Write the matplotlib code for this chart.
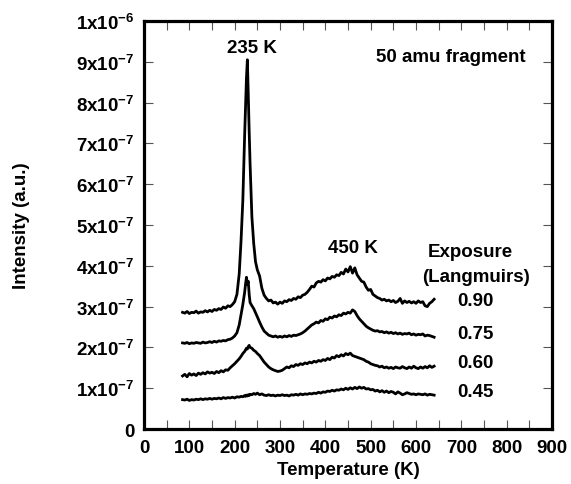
import matplotlib
matplotlib.use("Agg")
import matplotlib.pyplot as plt
from matplotlib.ticker import MultipleLocator, FixedLocator, FixedFormatter

plt.rcParams['font.family'] = ['Liberation Sans', 'DejaVu Sans']
plt.rcParams['font.weight'] = 'bold'
plt.rcParams['mathtext.fontset'] = 'custom'
plt.rcParams['mathtext.rm'] = 'Liberation Sans:bold'
plt.rcParams['mathtext.bf'] = 'Liberation Sans:bold'
plt.rcParams['mathtext.default'] = 'rm'

# Temperature grid (K)
temps = ([85, 90, 95, 100, 105, 110, 115, 120, 125, 130,
          135, 140, 145, 150, 155, 160, 165, 170, 175, 180,
          185, 190, 195, 200, 205, 210]
         + [214, 218, 222, 224, 226, 228, 230, 232, 234, 238, 242, 246, 250]
         + [255, 260, 265, 270, 275, 280, 285, 290, 295, 300,
            305, 310, 315, 320, 325, 330, 335, 340, 345, 350,
            355, 360, 365, 370, 375, 380, 385, 390, 395, 400,
            405, 410, 415, 420, 425, 430, 435, 440, 445, 450,
            455, 460, 465, 470, 475, 480, 485, 490, 495, 500,
            505, 510, 515, 520, 525, 530, 535, 540, 545, 550,
            555, 560, 565, 570, 575, 580, 585, 590, 595, 600,
            605, 610, 615, 620, 625, 630, 635, 640])

# Intensities in units of 1e-7
int_090 = ([2.86, 2.84, 2.88, 2.83, 2.86, 2.85, 2.89, 2.84, 2.87, 2.86,
            2.90, 2.87, 2.91, 2.88, 2.93, 2.91, 2.95, 2.93, 2.99, 2.96,
            3.02, 3.00, 3.05, 3.12, 3.30, 3.80]
           + [4.6, 5.6, 7.2, 7.9, 8.6, 9.05, 8.2, 7.3, 6.5, 5.2, 4.55, 4.1, 3.9]
           + [3.75, 3.45, 3.28, 3.20, 3.14, 3.16, 3.09, 3.11, 3.06, 3.11,
              3.08, 3.14, 3.12, 3.17, 3.15, 3.20, 3.18, 3.24, 3.22, 3.28,
              3.30, 3.35, 3.42, 3.50, 3.48, 3.58, 3.62, 3.60, 3.66, 3.63,
              3.70, 3.68, 3.74, 3.72, 3.78, 3.76, 3.84, 3.80, 3.92, 3.85,
              3.98, 3.82, 3.95, 3.78, 3.70, 3.62, 3.60, 3.48, 3.40, 3.42,
              3.30, 3.26, 3.22, 3.20, 3.16, 3.18, 3.14, 3.16, 3.12, 3.15,
              3.10, 3.13, 3.20, 3.08, 3.14, 3.10, 3.13, 3.09, 3.12, 3.08,
              3.14, 3.10, 3.12, 3.02, 3.00, 3.08, 3.12, 3.18])

int_075 = ([2.11, 2.10, 2.12, 2.09, 2.11, 2.10, 2.12, 2.11, 2.10, 2.13,
            2.11, 2.12, 2.14, 2.12, 2.15, 2.13, 2.16, 2.15, 2.17, 2.16,
            2.19, 2.20, 2.23, 2.28, 2.36, 2.55]
           + [2.80, 3.05, 3.35, 3.55, 3.72, 3.55, 3.62, 3.30, 3.10, 3.02, 2.95, 2.85, 2.75]
           + [2.62, 2.50, 2.40, 2.35, 2.30, 2.28, 2.26, 2.28, 2.25, 2.27,
              2.25, 2.28, 2.26, 2.29, 2.27, 2.30, 2.29, 2.31, 2.33, 2.36,
              2.40, 2.45, 2.50, 2.55, 2.58, 2.62, 2.60, 2.66, 2.64, 2.70,
              2.68, 2.74, 2.72, 2.77, 2.75, 2.80, 2.78, 2.84, 2.82, 2.86,
              2.84, 2.92, 2.88, 2.78, 2.70, 2.64, 2.58, 2.52, 2.48, 2.45,
              2.42, 2.40, 2.41, 2.38, 2.39, 2.36, 2.38, 2.35, 2.37, 2.34,
              2.36, 2.33, 2.35, 2.32, 2.34, 2.33, 2.35, 2.31, 2.33, 2.30,
              2.32, 2.31, 2.33, 2.28, 2.30, 2.29, 2.27, 2.25])

int_060 = ([1.30, 1.34, 1.28, 1.36, 1.32, 1.35, 1.31, 1.37, 1.34, 1.38,
            1.35, 1.40, 1.37, 1.39, 1.36, 1.41, 1.38, 1.43, 1.40, 1.45,
            1.44, 1.50, 1.55, 1.60, 1.66, 1.72]
           + [1.78, 1.85, 1.90, 1.94, 1.98, 1.96, 2.02, 2.05, 2.00, 1.98, 1.93, 1.90, 1.85]
           + [1.80, 1.72, 1.64, 1.58, 1.52, 1.48, 1.45, 1.43, 1.41, 1.42,
              1.44, 1.48, 1.52, 1.50, 1.55, 1.53, 1.58, 1.56, 1.60, 1.58,
              1.62, 1.60, 1.64, 1.62, 1.66, 1.64, 1.68, 1.66, 1.70, 1.68,
              1.73, 1.70, 1.76, 1.74, 1.80, 1.77, 1.82, 1.79, 1.85, 1.82,
              1.86, 1.80, 1.78, 1.76, 1.74, 1.72, 1.70, 1.66, 1.64, 1.60,
              1.58, 1.56, 1.55, 1.52, 1.54, 1.50, 1.52, 1.49, 1.51, 1.48,
              1.52, 1.50, 1.49, 1.53, 1.50, 1.48, 1.52, 1.49, 1.54, 1.50,
              1.48, 1.52, 1.49, 1.53, 1.50, 1.55, 1.51, 1.54])

int_045 = ([0.72, 0.71, 0.73, 0.70, 0.72, 0.71, 0.73, 0.72, 0.74, 0.72,
            0.74, 0.73, 0.75, 0.73, 0.75, 0.74, 0.76, 0.74, 0.77, 0.75,
            0.77, 0.76, 0.78, 0.76, 0.79, 0.78]
           + [0.80, 0.79, 0.82, 0.80, 0.83, 0.81, 0.84, 0.82, 0.85, 0.84, 0.87, 0.85, 0.88]
           + [0.84, 0.86, 0.83, 0.82, 0.84, 0.82, 0.83, 0.81, 0.83, 0.82,
              0.84, 0.82, 0.83, 0.81, 0.84, 0.83, 0.85, 0.83, 0.86, 0.84,
              0.86, 0.85, 0.87, 0.86, 0.88, 0.87, 0.90, 0.88, 0.91, 0.90,
              0.93, 0.92, 0.95, 0.93, 0.96, 0.95, 0.98, 0.96, 1.00, 0.97,
              1.01, 0.98, 1.02, 0.99, 1.03, 1.00, 1.02, 0.98, 0.99, 0.96,
              0.97, 0.93, 0.95, 0.91, 0.94, 0.90, 0.93, 0.89, 0.92, 0.90,
              0.86, 0.91, 0.88, 0.84, 0.86, 0.89, 0.87, 0.85, 0.86, 0.84,
              0.86, 0.85, 0.84, 0.86, 0.83, 0.85, 0.84, 0.83])

exposures = ["0.90", "0.75", "0.60", "0.45"]
series = [int_090, int_075, int_060, int_045]

x_ticks = [0, 100, 200, 300, 400, 500, 600, 700, 800, 900]
y_ticks = [0, 1e-7, 2e-7, 3e-7, 4e-7, 5e-7, 6e-7, 7e-7, 8e-7, 9e-7, 1e-6]
y_tick_labels = ["0", r"1x10$^{-7}$", r"2x10$^{-7}$", r"3x10$^{-7}$", r"4x10$^{-7}$",
                 r"5x10$^{-7}$", r"6x10$^{-7}$", r"7x10$^{-7}$", r"8x10$^{-7}$",
                 r"9x10$^{-7}$", r"1x10$^{-6}$"]

FS = 13.5

fig = plt.figure(figsize=(5.71, 4.85), dpi=100)
ax = fig.add_axes([0.2522, 0.1134, 0.7145, 0.8412])

for vals in series:
    ax.plot(temps, [v * 1e-7 for v in vals], color='black', lw=2.0)

ax.set_xlim(0, 900)
ax.set_ylim(0, 1e-6)
ax.xaxis.set_major_locator(FixedLocator(x_ticks))
ax.xaxis.set_minor_locator(MultipleLocator(50))
ax.yaxis.set_major_locator(FixedLocator(y_ticks))
ax.yaxis.set_major_formatter(FixedFormatter(y_tick_labels))
ax.tick_params(which='both', direction='in', top=True, right=True,
               length=6.5, width=0.8, color='#555555')
ax.tick_params(axis='x', which='major', labelsize=FS, pad=7)
ax.tick_params(axis='y', which='major', labelsize=FS, pad=7)
for lab in ax.get_xticklabels() + ax.get_yticklabels():
    lab.set_fontweight('bold')
for sp in ax.spines.values():
    sp.set_linewidth(2.3)

ax.set_xlabel("Temperature (K)", fontsize=FS, fontweight='bold')
ax.set_ylabel("Intensity (a.u.)", fontsize=FS, fontweight='bold')
ax.xaxis.set_label_coords(0.5, -0.078)
ax.yaxis.set_label_coords(-0.279, 0.5)

ax.text(238, 9.36e-7, "235 K", ha='center', va='center', fontsize=FS, fontweight='bold')
ax.text(461, 4.46e-7, "450 K", ha='center', va='center', fontsize=FS, fontweight='bold')
ax.text(677, 9.14e-7, "50 amu fragment", ha='center', va='center', fontsize=FS, fontweight='bold')
ax.text(720, 4.34e-7, "Exposure", ha='center', va='center', fontsize=FS, fontweight='bold')
ax.text(733, 3.75e-7, "(Langmuirs)", ha='center', va='center', fontsize=FS, fontweight='bold')
label_y = [3.14e-7, 2.35e-7, 1.64e-7, 0.91e-7]
for lab, yy in zip(exposures, label_y):
    ax.text(732, yy, lab, ha='center', va='center', fontsize=FS, fontweight='bold')

fig.savefig("out.png", dpi=100)
